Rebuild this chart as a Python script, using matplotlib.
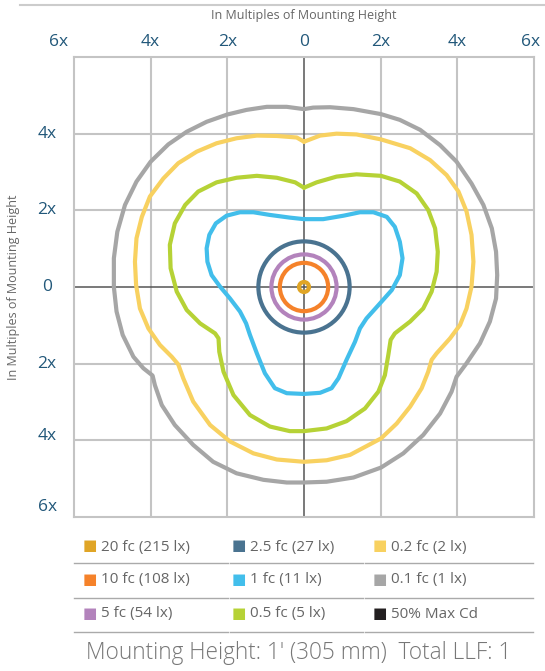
import matplotlib.pyplot as plt
from matplotlib.patches import Circle
from matplotlib.lines import Line2D

plt.rcParams['font.family'] = ['Open Sans', 'DejaVu Sans']

# legend entries
labels = ["20 fc (215 lx)", "10 fc (108 lx)", "5 fc (54 lx)",
          "2.5 fc (27 lx)", "1 fc (11 lx)", "0.5 fc (5 lx)",
          "0.2 fc (2 lx)", "0.1 fc (1 lx)", "50% Max Cd"]
colors = ["#E0A526", "#F5822A", "#B383BC",
          "#4A7390", "#42BEEB", "#B6D236",
          "#F8D160", "#A6A6A6", "#231F20"]

# round contours (radius in mounting heights)
ring_labels = ["20 fc", "10 fc", "5 fc", "2.5 fc"]
ring_radius = [0.13, 0.63, 0.85, 1.19]

# irregular contours (counterclockwise from the top)
blue_x = [0, -0.37, -0.89, -1.32, -1.67, -2.02, -2.30, -2.47, -2.54, -2.52, -2.41, -2.19, -1.93, -1.67,
          -1.51, -1.41, -1.23, -1.02, -0.76, -0.45, 0,
          0.42, 0.72, 0.90, 1.11, 1.33, 1.46, 1.63, 1.98, 2.29, 2.50, 2.57, 2.50, 2.37, 2.16, 1.81, 1.46,
          1.03, 0.50, 0]
blue_y = [1.77, 1.81, 1.88, 1.95, 1.95, 1.86, 1.66, 1.36, 1.01, 0.66, 0.31, 0.01, -0.30, -0.64,
          -0.95, -1.25, -1.73, -2.25, -2.64, -2.77, -2.79,
          -2.76, -2.64, -2.38, -1.90, -1.43, -1.08, -0.82, -0.43, -0.08, 0.31, 0.75, 1.18, 1.57, 1.83, 1.95, 1.95,
          1.86, 1.77, 1.77]

green_x = [0, -0.23, -0.71, -1.23, -1.76, -2.28, -2.76, -3.10, -3.37, -3.50, -3.48, -3.32, -3.06, -2.71,
           -2.32, -2.23, -2.21, -2.10, -1.84, -1.41, -0.89, -0.37, 0,
           0.59, 1.11, 1.59, 1.94, 2.11, 2.20, 2.26, 2.37, 2.77, 3.11, 3.33, 3.46, 3.49, 3.42, 3.24, 2.94,
           2.50, 2.01, 1.37, 0.85, 0.33, 0]
green_y = [2.59, 2.73, 2.85, 2.90, 2.85, 2.73, 2.49, 2.14, 1.66, 1.10, 0.49, -0.12, -0.60, -0.95,
           -1.21, -1.34, -1.69, -2.21, -2.82, -3.34, -3.64, -3.76, -3.76,
           -3.69, -3.50, -3.17, -2.73, -2.30, -1.77, -1.38, -1.21, -0.90, -0.56, -0.12, 0.40, 0.92, 1.53, 2.01, 2.44,
           2.75, 2.90, 2.94, 2.88, 2.73, 2.59]

yellow_x = [0, -0.19, -0.71, -1.23, -1.76, -2.28, -2.80, -3.28, -3.67, -4.02, -4.23, -4.37, -4.41, -4.38,
            -4.28, -4.06, -3.76, -3.45, -3.28, -3.15, -2.89, -2.45, -1.93, -1.32, -0.71, 0,
            0.59, 1.20, 2.01, 2.42, 2.77, 3.07, 3.24, 3.33, 3.46, 3.81, 4.07, 4.24, 4.37, 4.42, 4.37, 4.24,
            4.03, 3.72, 3.29, 2.77, 2.01, 1.37, 0.85, 0.42, 0]
yellow_y = [3.79, 3.90, 3.94, 3.95, 3.88, 3.75, 3.53, 3.23, 2.83, 2.36, 1.83, 1.27, 0.66, 0.05,
            -0.56, -1.08, -1.51, -1.82, -2.02, -2.38, -2.99, -3.60, -4.03, -4.34, -4.50, -4.56,
            -4.52, -4.38, -3.95, -3.56, -3.12, -2.64, -2.21, -1.90, -1.73, -1.34, -0.99, -0.56, 0.01, 0.66, 1.36, 1.97,
            2.49, 2.92, 3.31, 3.62, 3.85, 3.98, 4.00, 3.95, 3.79]

gray_x = [0, -0.45, -0.97, -1.50, -2.00, -2.54, -3.06, -3.54, -4.00, -4.37, -4.67, -4.87, -4.96, -4.96,
          -4.89, -4.73, -4.45, -4.19, -3.95, -3.89, -3.71, -3.37, -2.89, -2.37, -1.76, -1.06, -0.45, 0,
          0.59, 1.29, 2.01, 2.59, 3.11, 3.55, 3.85, 3.98, 4.24, 4.59, 4.85, 5.01, 5.04, 5.01, 4.90, 4.68,
          4.37, 3.98, 3.55, 3.03, 2.50, 2.01, 1.29, 0.68, 0.24, 0]
gray_y = [4.64, 4.70, 4.70, 4.62, 4.50, 4.31, 4.05, 3.72, 3.27, 2.75, 2.14, 1.44, 0.75, 0.0,
          -0.64, -1.25, -1.82, -2.12, -2.31, -2.56, -3.08, -3.60, -4.12, -4.56, -4.86, -5.03, -5.10, -5.10,
          -5.08, -4.97, -4.71, -4.34, -3.86, -3.30, -2.73, -2.34, -1.99, -1.47, -0.90, -0.30, 0.31, 0.92, 1.53, 2.14,
          2.70, 3.27, 3.70, 4.10, 4.36, 4.51, 4.64, 4.69, 4.68, 4.64]

top_ticks = [-6.4, -4, -2, 0, 2, 4, 5.9]
top_labels = ["6x", "4x", "2x", "0", "2x", "4x", "6x"]
left_ticks = [4, 2, 0, -2, -3.9, -5.75]
left_labels = ["4x", "2x", "0", "2x", "4x", "6x"]

footer = "Mounting Height: 1' (305 mm)  Total LLF: 1"

fig = plt.figure(figsize=(5.45, 6.71), dpi=100)
ax = fig.add_axes([74 / 545, 1 - 517 / 671, 460 / 545, 460 / 671])
ax.set_xlim(-6, 6)
ax.set_ylim(-6, 6)
ax.set_xticks([])
ax.set_yticks([])
for s in ax.spines.values():
    s.set_color("#c4c4c4")
    s.set_linewidth(1.5)

# grid
for g in [-4, -2, 2, 4]:
    ax.axvline(g, color="#c4c4c4", lw=1.5, zorder=1)
    ax.axhline(g, color="#c4c4c4", lw=1.5, zorder=1)
ax.axvline(0, color="#555555", lw=1.1, zorder=1)
ax.axhline(0, color="#555555", lw=1.1, zorder=1)

lw = 3.0
for xs, ys, c in [(gray_x, gray_y, colors[7]), (yellow_x, yellow_y, colors[6]),
                  (green_x, green_y, colors[5]), (blue_x, blue_y, colors[4])]:
    ax.plot(xs, ys, color=c, lw=lw, solid_joinstyle="round", solid_capstyle="round", zorder=3)

for r, c in zip(ring_radius, colors[:4]):
    ax.add_patch(Circle((0, 0), r, fill=False, ec=c, lw=lw, zorder=3))

# axis labels
tick_color = "#22587A"
for t, l in zip(top_ticks, top_labels):
    ax.text(t, 6.4, l, ha="center", va="center", fontsize=12.5, color=tick_color, clip_on=False)
for t, l in zip(left_ticks, left_labels):
    ax.text(-6.7, t, l, ha="center", va="center", fontsize=12.5, color=tick_color, clip_on=False)

fig.text(304 / 545, 1 - 16 / 671, "In Multiples of Mounting Height", ha="center", va="center",
         fontsize=9, color="#666666")
fig.text(14 / 545, 1 - 287 / 671, "In Multiples of Mounting Height", ha="center", va="center",
         fontsize=9, color="#666666", rotation=90)

# top rule
fig.add_artist(Line2D([20 / 545, 1], [1 - 5 / 671, 1 - 5 / 671], color="#cccccc", lw=1.5))

# legend grid
col_x = [83, 232, 373]
row_y = [547, 580, 614]
for i, (l, c) in enumerate(zip(labels, colors)):
    col = i // 3
    row = i % 3
    fig.text(col_x[col] / 545, 1 - row_y[row] / 671, "\u25A0", ha="left", va="center",
             fontsize=11, color=c)
    fig.text((col_x[col] + 18) / 545, 1 - row_y[row] / 671, l, ha="left", va="center",
             fontsize=11, color="#666666")

for yy in [563, 598, 632]:
    for x0, x1 in [(74, 228), (230, 363), (365, 533)]:
        fig.add_artist(Line2D([x0 / 545, x1 / 545], [1 - yy / 671, 1 - yy / 671], color="#aaaaaa", lw=1))

fig.text(86 / 545, 1 - 653 / 671, footer, ha="left", va="center", fontsize=16.3,
         color="#777777", fontweight="light")

fig.savefig("out.png", dpi=100)
